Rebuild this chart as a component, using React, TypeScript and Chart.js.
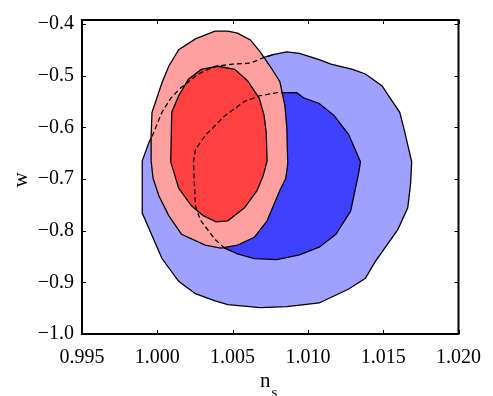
import React, { useEffect, useRef } from 'react';
import { Chart, registerables } from 'chart.js';

Chart.register(...registerables);

// Axis tick values
const xTicks = [0.995, 1.0, 1.005, 1.01, 1.015, 1.02];
const yTicks = [-1.0, -0.9, -0.8, -0.7, -0.6, -0.5, -0.4];

// Blue contours (outer = 95%, inner = 68%)
const blueOuterX = [0.99965, 1.00031, 1.00089, 1.00155, 1.00272, 1.00383, 1.00501, 1.00618, 1.00709, 1.00775, 1.0086, 1.00944, 1.01075, 1.01153, 1.01297, 1.01382, 1.01493, 1.01545, 1.0161, 1.01643, 1.01689, 1.01682, 1.01663, 1.01597, 1.01447, 1.01382, 1.01271, 1.01075, 1.0086, 1.00683, 1.00468, 1.00383, 1.00253, 1.00142, 1.00031, 0.999, 0.999, 0.99946];
const blueOuterY = [-0.618, -0.571, -0.544, -0.524, -0.497, -0.482, -0.478, -0.476, -0.465, -0.459, -0.454, -0.457, -0.469, -0.478, -0.488, -0.497, -0.52, -0.543, -0.571, -0.609, -0.667, -0.709, -0.756, -0.798, -0.86, -0.892, -0.913, -0.94, -0.947, -0.949, -0.943, -0.936, -0.922, -0.898, -0.854, -0.766, -0.665, -0.628];
const blueInnerX = [1.0024, 1.00253, 1.00318, 1.00448, 1.00579, 1.00683, 1.00794, 1.00925, 1.00971, 1.01075, 1.01173, 1.01271, 1.01349, 1.01336, 1.01284, 1.01186, 1.01075, 1.00944, 1.00794, 1.00644, 1.00533, 1.00448, 1.00383, 1.00285, 1.00253];
const blueInnerY = [-0.667, -0.643, -0.616, -0.578, -0.55, -0.539, -0.533, -0.533, -0.543, -0.554, -0.577, -0.614, -0.667, -0.69, -0.762, -0.807, -0.832, -0.847, -0.856, -0.854, -0.845, -0.834, -0.817, -0.779, -0.752];

// Red contours
const redOuterX = [0.99959, 0.99959, 0.99965, 1.00031, 1.00076, 1.00142, 1.00253, 1.00383, 1.00468, 1.00533, 1.00618, 1.00683, 1.00749, 1.00814, 1.00847, 1.0086, 1.00866, 1.00853, 1.00814, 1.00729, 1.00644, 1.00533, 1.00422, 1.00318, 1.00161, 1.00076, 1.00011, 0.99972];
const redOuterY = [-0.665, -0.614, -0.571, -0.514, -0.482, -0.45, -0.429, -0.414, -0.414, -0.418, -0.431, -0.454, -0.482, -0.512, -0.558, -0.601, -0.671, -0.699, -0.722, -0.781, -0.813, -0.828, -0.834, -0.828, -0.807, -0.771, -0.733, -0.699];
const redInnerX = [1.00089, 1.00096, 1.00142, 1.00207, 1.00292, 1.00403, 1.00514, 1.00599, 1.00677, 1.00709, 1.00723, 1.00729, 1.00703, 1.00663, 1.00579, 1.00468, 1.0039, 1.00305, 1.00227, 1.00142];
const redInnerY = [-0.667, -0.571, -0.539, -0.507, -0.488, -0.482, -0.488, -0.51, -0.544, -0.577, -0.609, -0.665, -0.694, -0.722, -0.756, -0.781, -0.783, -0.771, -0.752, -0.718];

// Portions of the blue contours hidden behind the red ones (drawn dashed)
const blueOuterHiddenIdx = [0, 1, 2, 3, 4, 5, 6, 7, 8, 9];
const blueInnerHiddenIdx = [21, 22, 23, 24, 0, 1, 2, 3, 4, 5, 6, 7];

const closed = (xs: number[], ys: number[]) => {
  const pts = xs.map((x, i) => ({ x, y: ys[i] }));
  pts.push({ ...pts[0] });
  return pts;
};
const pick = (xs: number[], ys: number[], idx: number[]) => idx.map((i) => ({ x: xs[i], y: ys[i] }));

const FONT = '"Liberation Serif", "Times New Roman", serif';

const framePlugin = {
  id: 'frameTicks',
  afterDraw(chart: any) {
    const { ctx, chartArea: a, scales } = chart;
    ctx.save();
    ctx.strokeStyle = '#000';
    ctx.lineWidth = 1;
    const tl = 4;
    ctx.beginPath();
    for (const v of xTicks) {
      const px = Math.round(scales.x.getPixelForValue(v)) + 0.5;
      ctx.moveTo(px, a.bottom);
      ctx.lineTo(px, a.bottom - tl);
      ctx.moveTo(px, a.top);
      ctx.lineTo(px, a.top + tl);
    }
    for (const v of yTicks) {
      const py = Math.round(scales.y.getPixelForValue(v)) + 0.5;
      ctx.moveTo(a.left, py);
      ctx.lineTo(a.left + tl, py);
      ctx.moveTo(a.right, py);
      ctx.lineTo(a.right - tl, py);
    }
    ctx.stroke();
    ctx.lineWidth = 2;
    ctx.strokeRect(a.left, a.top, a.right - a.left, a.bottom - a.top);

    // Axis titles
    ctx.fillStyle = '#000';
    ctx.textBaseline = 'alphabetic';
    ctx.font = `21px ${FONT}`;
    const cx = (a.left + a.right) / 2;
    const nW = ctx.measureText('n').width;
    ctx.font = `15px ${FONT}`;
    const sW = ctx.measureText('s').width;
    const startX = cx - (nW + sW) / 2 - 2;
    ctx.font = `21px ${FONT}`;
    ctx.textAlign = 'left';
    ctx.fillText('n', startX, 387);
    ctx.font = `15px ${FONT}`;
    ctx.fillText('s', startX + nW + 1, 397);

    ctx.font = `21px ${FONT}`;
    ctx.translate(27, (a.top + a.bottom) / 2 + 3);
    ctx.rotate(-Math.PI / 2);
    ctx.textAlign = 'center';
    ctx.fillText('w', 0, 0);
    ctx.restore();
  },
};

export default function App() {
  const ref = useRef<HTMLCanvasElement>(null);
  useEffect(() => {
    if (!ref.current) return;
    const lw = 1.3;
    const base = { showLine: true, pointRadius: 0, tension: 0, borderColor: '#000', borderWidth: lw };
    const chart = new Chart(ref.current, {
      type: 'scatter',
      data: {
        datasets: [
          { ...base, label: 'blueOuter', data: closed(blueOuterX, blueOuterY), backgroundColor: 'rgb(160,160,255)', fill: 'shape', order: 6 },
          { ...base, label: 'blueInner', data: closed(blueInnerX, blueInnerY), backgroundColor: 'rgb(64,64,255)', fill: 'shape', order: 5 },
          { ...base, label: 'redOuter', data: closed(redOuterX, redOuterY), backgroundColor: 'rgb(255,160,160)', fill: 'shape', order: 4 },
          { ...base, label: 'redInner', data: closed(redInnerX, redInnerY), backgroundColor: 'rgb(255,64,64)', fill: 'shape', order: 3 },
          { ...base, label: 'blueOuterHidden', data: pick(blueOuterX, blueOuterY, blueOuterHiddenIdx), fill: false, borderDash: [5, 3], order: 1 },
          { ...base, label: 'blueInnerHidden', data: pick(blueInnerX, blueInnerY, blueInnerHiddenIdx), fill: false, borderDash: [5, 3], order: 1 },
        ],
      } as any,
      options: {
        responsive: false,
        animation: false,
        devicePixelRatio: 1,
        layout: { padding: { top: 13, right: 28, left: 0, bottom: 0 } },
        plugins: { legend: { display: false }, tooltip: { enabled: false } },
        scales: {
          x: {
            type: 'linear',
            min: 0.995,
            max: 1.02,
            afterBuildTicks: (s: any) => { s.ticks = xTicks.map((v) => ({ value: v })); },
            afterFit: (s: any) => { s.height = 62; },
            grid: { display: false, drawTicks: false },
            border: { display: false },
            ticks: {
              callback: (v: any) => Number(v).toFixed(3),
              font: { family: FONT, size: 20 },
              color: '#000',
              maxRotation: 0,
              autoSkip: false,
              padding: 12,
            },
          },
          y: {
            type: 'linear',
            min: -1.0,
            max: -0.3925,
            afterBuildTicks: (s: any) => { s.ticks = yTicks.map((v) => ({ value: v })); },
            afterFit: (s: any) => { s.width = 82; },
            grid: { display: false, drawTicks: false },
            border: { display: false },
            ticks: {
              callback: (v: any) => (Number(v) < 0 ? '\u2212' : '') + Math.abs(Number(v)).toFixed(1),
              font: { family: FONT, size: 20 },
              color: '#000',
              autoSkip: false,
              padding: 8,
            },
          },
        },
      } as any,
      plugins: [framePlugin],
    });
    return () => chart.destroy();
  }, []);
  return (
    <div style={{ position: 'absolute', left: 0, top: 0, width: 493, height: 396 }}>
      <canvas ref={ref} width={493} height={396} />
    </div>
  );
}
